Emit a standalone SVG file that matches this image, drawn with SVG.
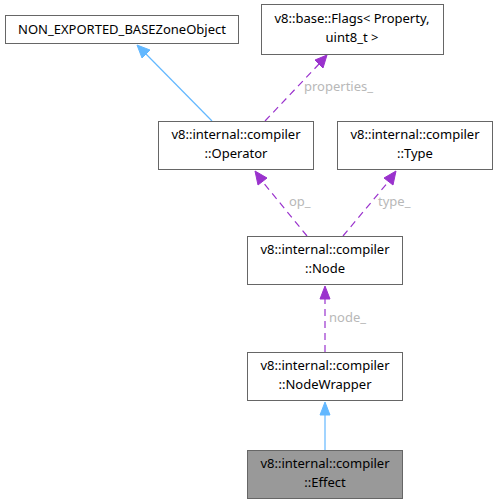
<svg xmlns="http://www.w3.org/2000/svg" width="497" height="504" viewBox="0 0 497 504">
<style>
.box{fill:#ffffff;stroke:#666666;stroke-width:1}
.hl{fill:#999999;stroke:#666666;stroke-width:1}
text{font-family:"Noto Sans","Open Sans",sans-serif;font-size:13px;fill:#000000;text-anchor:middle}
.lbl{fill:#b8b8b8;text-anchor:start}
.inh{stroke:#63b8ff;stroke-width:1.2;fill:none}
.use{stroke:#9a32cd;stroke-width:1.2;fill:none;stroke-dasharray:7,5}
.ah1{fill:#63b8ff;stroke:#63b8ff}
.ah2{fill:#9a32cd;stroke:#9a32cd}
</style>
<rect width="497" height="504" fill="#ffffff"/>
<g id="connectors">
<line class="inh" x1="212" y1="121" x2="146" y2="54"/>
<polygon class="ah1" points="137,45 150,50 142,58"/>
<line class="use" x1="265" y1="121" x2="319" y2="64"/>
<polygon class="ah2" points="327,55 323,68 315,60"/>
<text class="lbl" x="304" y="91">properties_</text>
<line class="use" x1="307" y1="236" x2="262" y2="181"/>
<polygon class="ah2" points="255,171 267,178 258,185"/>
<text class="lbl" x="289" y="206">op_</text>
<line class="use" x1="343" y1="236" x2="389" y2="181"/>
<polygon class="ah2" points="396,171 393,185 384,178"/>
<text class="lbl" x="378" y="206">type_</text>
<line class="use" x1="325" y1="352" x2="325" y2="298"/>
<polygon class="ah2" points="325,286 330,299 320,299"/>
<text class="lbl" x="329" y="322">node_</text>
<line class="inh" x1="325" y1="450" x2="325" y2="414"/>
<polygon class="ah1" points="325,402 330,415 320,415"/>
</g>
<g id="node-base">
<rect class="box" x="5.5" y="15.5" width="233" height="28"/>
<text x="122" y="34">NON_EXPORTED_BASEZoneObject</text>
</g>
<g id="node-flags">
<rect class="box" x="261.5" y="4.5" width="182" height="50"/>
<text x="352" y="23">v8::base::Flags&lt; Property,</text>
<text x="352" y="42">uint8_t &gt;</text>
</g>
<g id="node-operator">
<rect class="box" x="158.5" y="121.5" width="155" height="48"/>
<text x="236" y="139">v8::internal::compiler</text>
<text x="236" y="158">::Operator</text>
</g>
<g id="node-type">
<rect class="box" x="337.5" y="121.5" width="155" height="48"/>
<text x="415" y="139">v8::internal::compiler</text>
<text x="415" y="158">::Type</text>
</g>
<g id="node-node">
<rect class="box" x="247.5" y="236.5" width="155" height="48"/>
<text x="325" y="254">v8::internal::compiler</text>
<text x="325" y="273">::Node</text>
</g>
<g id="node-nodewrapper">
<rect class="box" x="247.5" y="352.5" width="155" height="48"/>
<text x="325" y="370">v8::internal::compiler</text>
<text x="325" y="389">::NodeWrapper</text>
</g>
<g id="node-effect">
<rect class="hl" x="247.5" y="450.5" width="155" height="48"/>
<text x="325" y="468">v8::internal::compiler</text>
<text x="325" y="487">::Effect</text>
</g>
</svg>
